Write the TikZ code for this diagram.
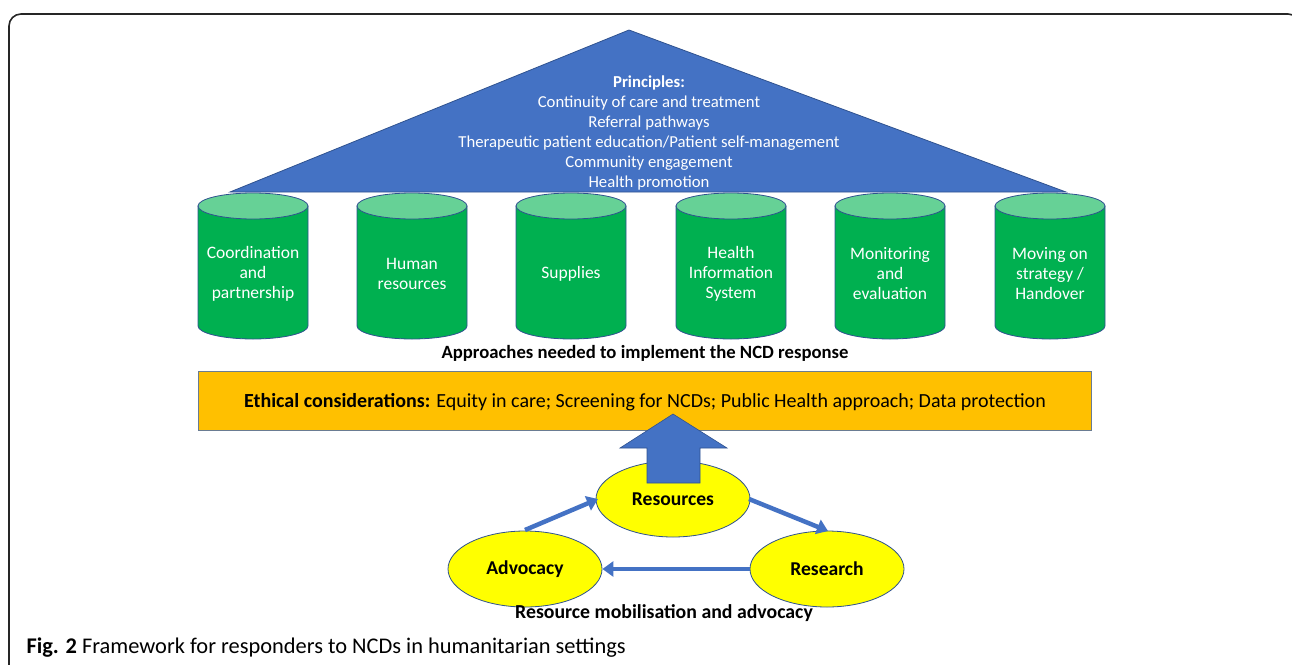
\documentclass[tikz,border=0pt]{standalone}
\usepackage{fontspec}
\setmainfont{Carlito}
\usetikzlibrary{shapes.geometric,arrows.meta}
\definecolor{pblue}{HTML}{4472C4}
\definecolor{pborder}{HTML}{2F528F}
\definecolor{cylgreen}{HTML}{00B050}
\definecolor{cyltop}{HTML}{66D196}
\definecolor{ethorange}{HTML}{FFC000}
\definecolor{ethborder}{HTML}{6A7C92}
\definecolor{ellyellow}{HTML}{FFFF00}
\tikzset{
  cyltext/.style={text=white, align=center, font=\fontsize{17.5}{20}\selectfont},
  cylbody/.style={fill=cylgreen, draw=pborder, line width=0.8pt},
  cyllid/.style={fill=cyltop, draw=pborder, line width=0.8pt},
  loopnode/.style={ellipse, fill=ellyellow, draw=pborder, line width=0.8pt, minimum width=154pt, minimum height=76pt, inner sep=0pt, font=\bfseries\fontsize{19.6}{22}\selectfont},
  looparrow/.style={draw=pblue, line width=4.5pt, -{Triangle[length=11pt,width=15pt]}, shorten <=0pt},
  boldlabel/.style={font=\bfseries\fontsize{18.7}{22}\selectfont}
}
\begin{document}
\begin{tikzpicture}[x=1pt,y=-1pt]
\useasboundingbox (0,0) rectangle (1292,664);
\begin{scope}
\clip (0,0) rectangle (1292,664);
\draw[line width=1.6pt, rounded corners=12pt, draw=black!85] (9,14) rectangle (1300,680);
\end{scope}
% roof
\path[fill=pblue, draw=pborder, line width=0.8pt] (629,30) -- (1066,192) -- (230,192) -- cycle;
\node[text=white, align=center, font=\fontsize{16.7}{20}\selectfont] (principles) at (649,133)
  {\textbf{Principles:}\\Continuity of care and treatment\\Referral pathways\\Therapeutic patient education/Patient self-management\\Community engagement\\Health promotion};
% pillars
\foreach \cx/\name/\txt in {253/c1/{Coordination\\and\\partnership}, 412/c2/{Human\\resources}, 571/c3/{Supplies}, 731/c4/{Health\\Information\\System}, 890/c5/{Monitoring\\and\\evaluation}, 1050/c6/{Moving on\\strategy /\\Handover}} {
  \path[cylbody] (\cx-55,206) -- (\cx-55,326) arc[start angle=180, end angle=360, x radius=55pt, y radius=13pt] -- (\cx+55,206) -- cycle;
  \path[cyllid] (\cx,206) ellipse[x radius=55pt, y radius=13pt];
  \node[cyltext] (\name) at (\cx,274) {\txt};
}
\node[boldlabel] (approaches) at (645,353) {Approaches needed to implement the NCD response};
% ethical box
\node[draw=ethborder, fill=ethorange, line width=0.8pt, minimum width=893pt, minimum height=59pt, inner sep=0pt, anchor=north west] (ethics) at (198,371) {};
\node[font=\fontsize{20}{24}\selectfont] (ethtext) at (645,402) {\textbf{Ethical considerations:} Equity in care; Screening for NCDs; Public Health approach; Data protection};
% loop
\node[loopnode] (res) at (673,499) {Resources};
\node[loopnode] (adv) at (525,569) {Advocacy};
\node[loopnode] (rsch) at (827,569) {Research};
% big arrow
\path[fill=pblue, draw=pborder, line width=0.6pt] (647,483) -- (647,448) -- (620,448) -- (673,414) -- (727,448) -- (700,448) -- (700,483) -- cycle;
\coordinate (a1) at (525,530);
\coordinate (a2) at (598,499);
\coordinate (b1) at (749,499);
\coordinate (b2) at (828,531);
\draw[looparrow] (a1) -- (a2);
\draw[looparrow] (b1) -- (b2);
\draw[looparrow] (rsch.west) -- (adv.east);
\node[font=\bfseries\fontsize{19.8}{22}\selectfont] (rma) at (664,613) {Resource mobilisation and advocacy};
\node[anchor=west, font=\fontsize{22.4}{26}\selectfont] (caption) at (23,648) {\textbf{Fig. 2} Framework for responders to NCDs in humanitarian settings};
\end{tikzpicture}
\end{document}
